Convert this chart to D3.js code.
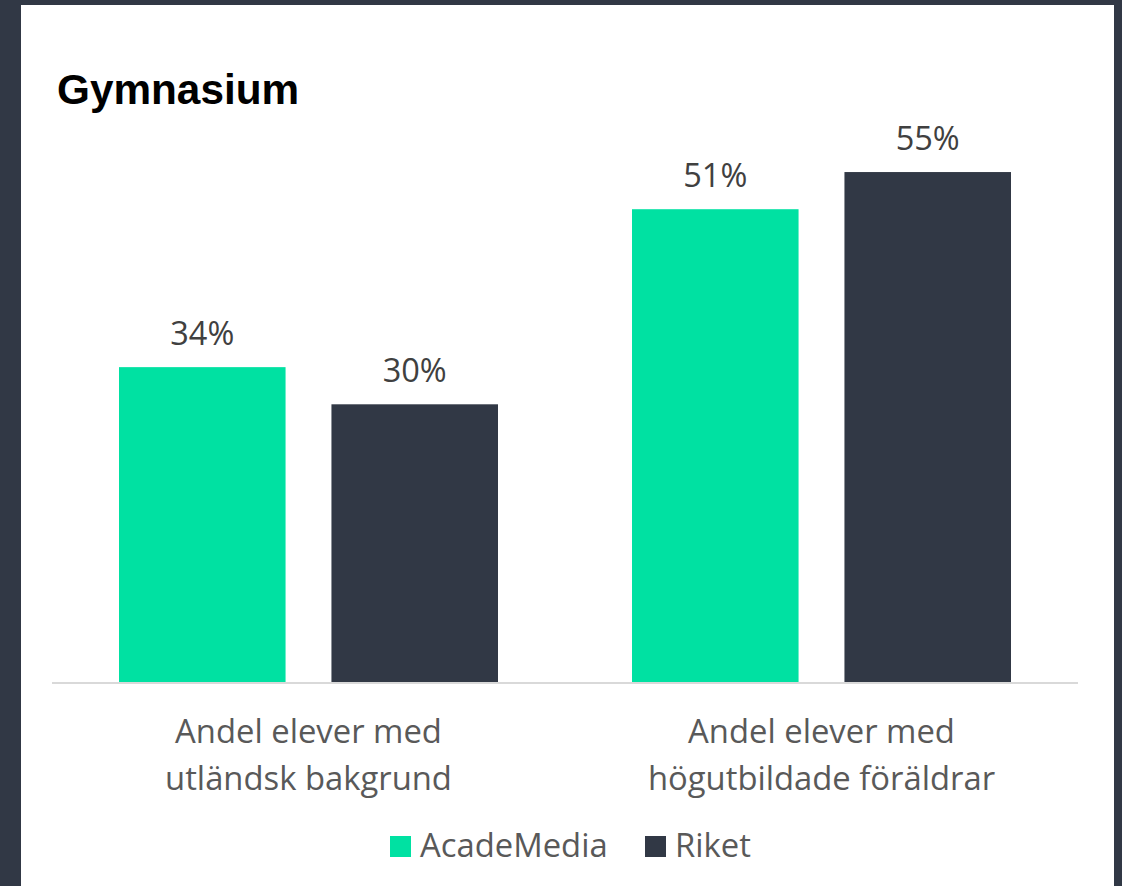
<!DOCTYPE html>
<html><head><meta charset="utf-8">
<script src="https://cdn.jsdelivr.net/npm/d3@7"></script>
<style>html,body{margin:0;padding:0;background:#313845;}</style>
</head><body>
<svg id="chart" width="1122" height="886"></svg>
<script>
const categories = [["Andel elever med","utländsk bakgrund"],["Andel elever med","högutbildade föräldrar"]];
const seriesNames = ["AcadeMedia","Riket"];
const academedia = [0.34, 0.51];
const riket = [0.30, 0.55];
const colors = ["#00E1A2","#313845"];

const svg = d3.select("#chart");
svg.append("rect").attr("x",0).attr("y",0).attr("width",1122).attr("height",886).attr("fill","#313845");
svg.append("rect").attr("x",21).attr("y",5).attr("width",1093).attr("height",881).attr("fill","#ffffff");

svg.append("text").attr("x",57).attr("y",104).text("Gymnasium")
  .attr("font-family","Liberation Sans, Arial, sans-serif").attr("font-weight","bold")
  .attr("font-size",42.3).attr("fill","#000");

const left=52, right=1078, base=683;
const x0 = d3.scaleBand().domain(d3.range(categories.length)).range([left,right]).paddingInner(0).paddingOuter(0);
const x1 = d3.scaleBand().domain(seriesNames).range([67, 513-67]).paddingInner(0.216);
const y = d3.scaleLinear().domain([0,0.6]).range([base, base-0.6*929]);

const data = categories.map((c,i)=>({i, vals:[academedia[i], riket[i]]}));
const g = svg.append("g");
const groups = g.selectAll("g.grp").data(data).join("g").attr("transform",d=>`translate(${x0(d.i)},0)`);
groups.selectAll("rect").data(d=>d.vals.map((v,k)=>({v,k}))).join("rect")
  .attr("x",d=>x1(seriesNames[d.k])).attr("width",x1.bandwidth())
  .attr("y",d=>y(d.v)).attr("height",d=>base-y(d.v)).attr("fill",d=>colors[d.k]);
groups.selectAll("text.val").data(d=>d.vals.map((v,k)=>({v,k}))).join("text").attr("class","val")
  .attr("x",d=>x1(seriesNames[d.k])+x1.bandwidth()/2).attr("y",d=>y(d.v)-22)
  .attr("text-anchor","middle").attr("font-family","Open Sans, sans-serif").attr("font-size",32.5)
  .attr("fill","#404040").text(d=>d3.format(".0%")(d.v));

// baseline axis
const axis = d3.axisBottom(x0).tickSize(0).tickFormat("");
const ax = svg.append("g").attr("transform",`translate(0,${base})`).call(axis);
ax.select(".domain").attr("stroke","#d9d9d9").attr("stroke-width",2).attr("d",`M${left},0H${right}`);

// category labels
categories.forEach((lines,i)=>{
  const t = svg.append("text").attr("text-anchor","middle").attr("font-family","Open Sans, sans-serif")
    .attr("font-size",32.8).attr("fill","#595959");
  lines.forEach((ln,j)=>t.append("tspan").attr("x",x0(i)+x0.bandwidth()/2).attr("y",743+j*47).text(ln));
});

// legend
const legend = svg.append("g");
const lx = [390, 645];
seriesNames.forEach((s,k)=>{
  legend.append("rect").attr("x",lx[k]).attr("y",836).attr("width",21).attr("height",21).attr("fill",colors[k]);
  legend.append("text").attr("x",lx[k]+30).attr("y",857).attr("font-family","Open Sans, sans-serif")
    .attr("font-size",32.8).attr("fill","#595959").text(s);
});
</script>
</body></html>
